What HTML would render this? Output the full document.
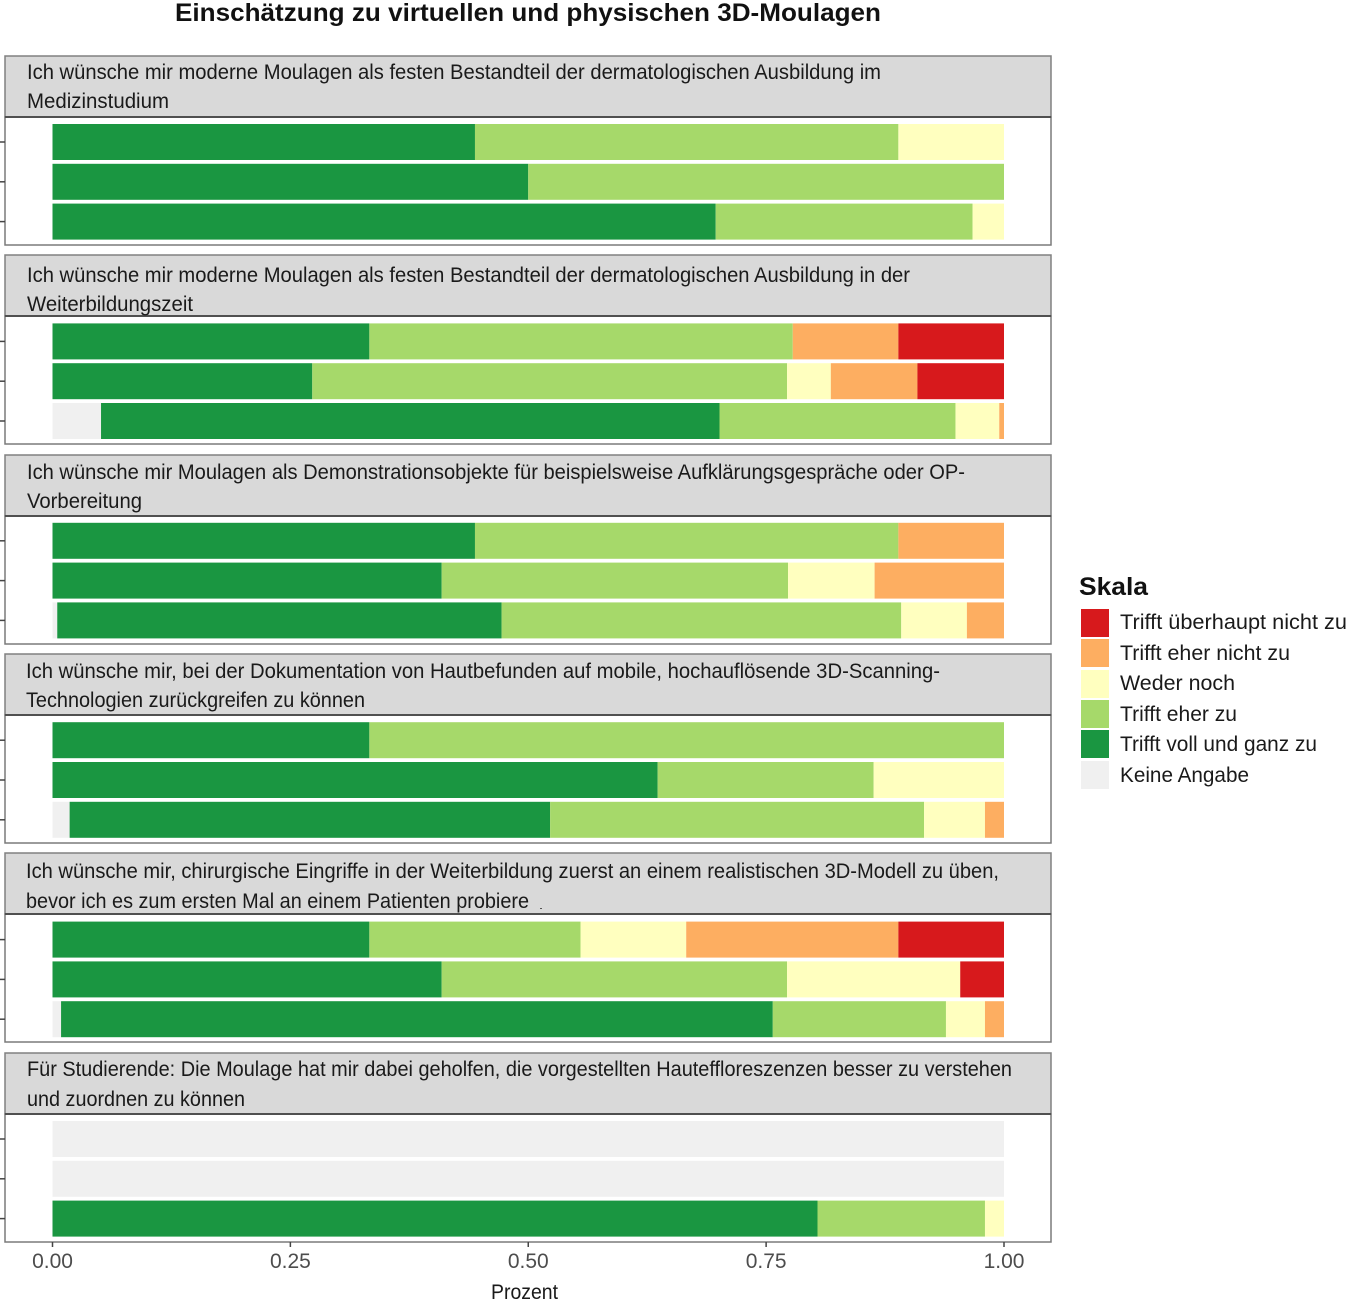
<!DOCTYPE html>
<html lang="de">
<head>
<meta charset="utf-8">
<title>Einschätzung zu virtuellen und physischen 3D-Moulagen</title>
<style>
html,body{margin:0;padding:0;background:#fff;width:1347px;height:1300px;overflow:hidden}
svg{display:block;font-family:"Liberation Sans",sans-serif}
.strip-text{font-size:21px;fill:#1a1a1a}
.strip-bg{fill:#d9d9d9;stroke:#808080;stroke-width:1.5}
.strip-rule{stroke:#505050;stroke-width:2}
.panel-bg{fill:#fff;stroke:#7a7a7a;stroke-width:1.5}
.legend-text{font-size:21px;fill:#1a1a1a}
</style>
</head>
<body>
<svg id="chart" width="1347" height="1300" viewBox="0 0 1347 1300" xmlns="http://www.w3.org/2000/svg">
  <text x="175" y="21" font-size="25" font-weight="bold" fill="#111" textLength="706" lengthAdjust="spacingAndGlyphs">Einschätzung zu virtuellen und physischen 3D-Moulagen</text>

  <g>
    <rect class="panel-bg" x="5" y="117" width="1046" height="128"/>
    <rect class="strip-bg" x="5" y="56" width="1046" height="61"/>
    <line class="strip-rule" x1="5" x2="1051" y1="117" y2="117"/>
    <text class="strip-text" x="27" y="79" textLength="854" lengthAdjust="spacingAndGlyphs">Ich wünsche mir moderne Moulagen als festen Bestandteil der dermatologischen Ausbildung im</text>
    <text class="strip-text" x="27" y="108" textLength="142" lengthAdjust="spacingAndGlyphs">Medizinstudium</text>
  </g>
  <g>
    <rect class="panel-bg" x="5" y="316" width="1046" height="128"/>
    <rect class="strip-bg" x="5" y="255" width="1046" height="61"/>
    <line class="strip-rule" x1="5" x2="1051" y1="316" y2="316"/>
    <text class="strip-text" x="27" y="282" textLength="883" lengthAdjust="spacingAndGlyphs">Ich wünsche mir moderne Moulagen als festen Bestandteil der dermatologischen Ausbildung in der</text>
    <text class="strip-text" x="27" y="311" textLength="166" lengthAdjust="spacingAndGlyphs">Weiterbildungszeit</text>
  </g>
  <g>
    <rect class="panel-bg" x="5" y="516" width="1046" height="128"/>
    <rect class="strip-bg" x="5" y="455" width="1046" height="61"/>
    <line class="strip-rule" x1="5" x2="1051" y1="516" y2="516"/>
    <text class="strip-text" x="27" y="479" textLength="938" lengthAdjust="spacingAndGlyphs">Ich wünsche mir Moulagen als Demonstrationsobjekte für beispielsweise Aufklärungsgespräche oder OP-</text>
    <text class="strip-text" x="27" y="508" textLength="115" lengthAdjust="spacingAndGlyphs">Vorbereitung</text>
  </g>
  <g>
    <rect class="panel-bg" x="5" y="715" width="1046" height="128"/>
    <rect class="strip-bg" x="5" y="654" width="1046" height="61"/>
    <line class="strip-rule" x1="5" x2="1051" y1="715" y2="715"/>
    <text class="strip-text" x="26" y="678" textLength="914" lengthAdjust="spacingAndGlyphs">Ich wünsche mir, bei der Dokumentation von Hautbefunden auf mobile, hochauflösende 3D-Scanning-</text>
    <text class="strip-text" x="26" y="707" textLength="339" lengthAdjust="spacingAndGlyphs">Technologien zurückgreifen zu können</text>
  </g>
  <g>
    <rect class="panel-bg" x="5" y="914" width="1046" height="128"/>
    <rect class="strip-bg" x="5" y="853" width="1046" height="61"/>
    <line class="strip-rule" x1="5" x2="1051" y1="914" y2="914"/>
    <text class="strip-text" x="26" y="878" textLength="973" lengthAdjust="spacingAndGlyphs">Ich wünsche mir, chirurgische Eingriffe in der Weiterbildung zuerst an einem realistischen 3D-Modell zu üben,</text>
    <text class="strip-text" x="26" y="908" textLength="503" lengthAdjust="spacingAndGlyphs">bevor ich es zum ersten Mal an einem Patienten probiere</text>
    <rect x="540" y="908" width="2" height="1" fill="#555"/>
  </g>
  <g>
    <rect class="panel-bg" x="5" y="1114" width="1046" height="128"/>
    <rect class="strip-bg" x="5" y="1053" width="1046" height="61"/>
    <line class="strip-rule" x1="5" x2="1051" y1="1114" y2="1114"/>
    <text class="strip-text" x="27" y="1076" textLength="985" lengthAdjust="spacingAndGlyphs">Für Studierende: Die Moulage hat mir dabei geholfen, die vorgestellten Hauteffloreszenzen besser zu verstehen</text>
    <text class="strip-text" x="27" y="1106" textLength="218" lengthAdjust="spacingAndGlyphs">und zuordnen zu können</text>
  </g>

  <g id="bars"></g>
  <g id="y-ticks"></g>
  <g id="x-axis"></g>
  <text x="491" y="1299" font-size="21" fill="#1a1a1a" textLength="67" lengthAdjust="spacingAndGlyphs">Prozent</text>

  <g>
    <text x="1079" y="595" font-size="25" font-weight="bold" fill="#111" textLength="69" lengthAdjust="spacingAndGlyphs">Skala</text>
    <rect x="1081" y="609" width="28" height="28" fill="#d7191c"/>
    <text class="legend-text" x="1120" y="629" textLength="227" lengthAdjust="spacingAndGlyphs">Trifft überhaupt nicht zu</text>
    <rect x="1081" y="639" width="28" height="28" fill="#fdae61"/>
    <text class="legend-text" x="1120" y="660" textLength="170" lengthAdjust="spacingAndGlyphs">Trifft eher nicht zu</text>
    <rect x="1081" y="670" width="28" height="28" fill="#ffffbf"/>
    <text class="legend-text" x="1120" y="690" textLength="115" lengthAdjust="spacingAndGlyphs">Weder noch</text>
    <rect x="1081" y="700" width="28" height="28" fill="#a6d96a"/>
    <text class="legend-text" x="1120" y="721" textLength="117" lengthAdjust="spacingAndGlyphs">Trifft eher zu</text>
    <rect x="1081" y="730" width="28" height="28" fill="#1a9641"/>
    <text class="legend-text" x="1120" y="751" textLength="197" lengthAdjust="spacingAndGlyphs">Trifft voll und ganz zu</text>
    <rect x="1081" y="761" width="28" height="28" fill="#f0f0f0"/>
    <text class="legend-text" x="1120" y="782" textLength="129" lengthAdjust="spacingAndGlyphs">Keine Angabe</text>
  </g>
</svg>

<script>
// Each array: one value per bar, 3 bars per facet, 6 facets (top to bottom).
const keineAngabe = [0,0,0,  0,0,0.051,  0,0,0.005,  0,0,0.018,  0,0,0.009,  1,1,0];
const trifftVoll = [0.444,0.5,0.697,  0.333,0.273,0.650,  0.444,0.409,0.467,  0.333,0.636,0.505,  0.333,0.409,0.748,  0,0,0.804];
const trifftEherZu = [0.445,0.5,0.270,  0.445,0.499,0.248,  0.445,0.364,0.420,  0.667,0.227,0.393,  0.222,0.363,0.182,  0,0,0.176];
const wederNoch = [0.111,0,0.033,  0,0.046,0.046,  0,0.091,0.069,  0,0.137,0.064,  0.111,0.182,0.041,  0,0,0.020];
const trifftEherNicht = [0,0,0,  0.111,0.091,0.005,  0.111,0.136,0.039,  0,0,0.020,  0.223,0,0.020,  0,0,0];
const trifftNicht = [0,0,0,  0.111,0.091,0,  0,0,0,  0,0,0,  0.111,0.046,0,  0,0,0];
const seriesNames = ['keine-angabe','trifft-voll-und-ganz-zu','trifft-eher-zu','weder-noch','trifft-eher-nicht-zu','trifft-ueberhaupt-nicht-zu'];
const xTickValues = [0,0.25,0.5,0.75,1];
const xTickLabels = ['0.00','0.25','0.50','0.75','1.00'];

const seriesValues = [keineAngabe,trifftVoll,trifftEherZu,wederNoch,trifftEherNicht,trifftNicht];
const seriesColors = ['#f0f0f0','#1a9641','#a6d96a','#ffffbf','#fdae61','#d7191c'];
const NS = 'http://www.w3.org/2000/svg';

function xScale(v){ return 52.5 + v*951.5; }
function panelTop(f){ return 117 + f*199.4; }
function rowTop(f,r){ return panelTop(f) + 7 + r*39.8; }

const barsG = document.getElementById('bars');
const ticksG = document.getElementById('y-ticks');
const axisG = document.getElementById('x-axis');

for (let i = 0; i < keineAngabe.length; i++) {
  const f = Math.floor(i/3), r = i%3;
  let total = 0;
  for (let s = 0; s < seriesValues.length; s++) {
    const v = seriesValues[s][i];
    if (v <= 0) continue;
    const x0 = xScale(total), x1 = xScale(Math.min(1,total+v));
    total += v;
    const rect = document.createElementNS(NS,'rect');
    rect.setAttribute('x', x0);
    rect.setAttribute('y', rowTop(f,r));
    rect.setAttribute('width', x1-x0);
    rect.setAttribute('height', 36);
    rect.setAttribute('fill', seriesColors[s]);
    
    
    barsG.appendChild(rect);
  }
  const tick = document.createElementNS(NS,'line');
  const ty = rowTop(f,r) + 18;
  tick.setAttribute('x1', 0);
  tick.setAttribute('x2', 5);
  tick.setAttribute('y1', ty);
  tick.setAttribute('y2', ty);
  tick.setAttribute('stroke', '#444');
  tick.setAttribute('stroke-width', 1.5);
  
  
  ticksG.appendChild(tick);
}

xTickValues.forEach(function(v,i){
  const x = xScale(v);
  const tick = document.createElementNS(NS,'line');
  tick.setAttribute('x1', x);
  tick.setAttribute('x2', x);
  tick.setAttribute('y1', 1242);
  tick.setAttribute('y2', 1247);
  tick.setAttribute('stroke', '#444');
  tick.setAttribute('stroke-width', 1.5);
  
  
  axisG.appendChild(tick);
  const label = document.createElementNS(NS,'text');
  label.setAttribute('x', x);
  label.setAttribute('y', 1268);
  label.setAttribute('text-anchor', 'middle');
  label.setAttribute('font-size', 21);
  label.setAttribute('fill', '#4d4d4d');
  
  
  label.textContent = xTickLabels[i];
  axisG.appendChild(label);
});
</script>
</body>
</html>
